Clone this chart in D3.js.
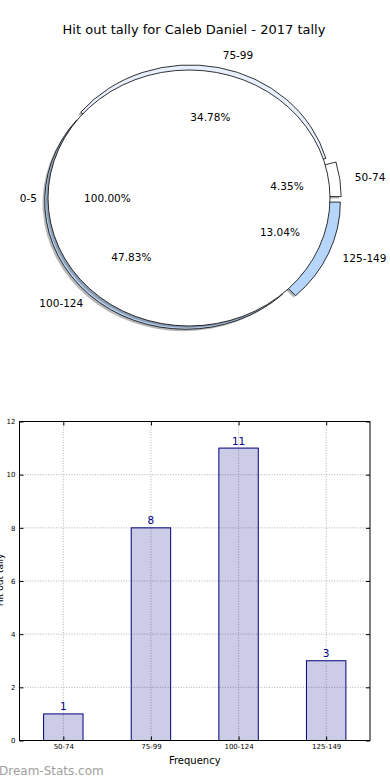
<!DOCTYPE html>
<html>
<head>
<meta charset="utf-8">
<script src="https://cdn.jsdelivr.net/npm/d3@7"></script>
<style>
  body { margin: 0; background: #fff; }
  svg { display: block; font-family: "DejaVu Sans", sans-serif; }
</style>
</head>
<body>
<div id="chart"></div>
<script>
// data
const title = "Hit out tally for Caleb Daniel - 2017 tally";
const categories = ["50-74", "75-99", "100-124", "125-149"];
const counts = [1, 8, 11, 3];
const pieColors = ["#ffffff", "#e8f0fd", "#bcd7f7", "#b5d5fb"];
const explode = [0.08, 0.04, 0.03, 0.08];
const outerLabel = ["0-5"];
const outerValue = [1];
const yTicks = [0, 2, 4, 6, 8, 10, 12];

const W = 390, H = 780;
const svg = d3.select("#chart").append("svg")
    .attr("width", W)
    .attr("height", H);

svg.append("text")
    .attr("x", 194)
    .attr("y", 34)
    .attr("text-anchor", "middle")
    .attr("font-size", 13)
    .text(title);

// ---- pie (matplotlib style, elliptical) ----
const cx = 189, cy = 198, rx = 141, ry = 128;
const arc = d3.arc().innerRadius(0).outerRadius(1);
// matplotlib goes counter clockwise from 3 o'clock
const pie = d3.pie().sort(null).startAngle(Math.PI / 2).endAngle(Math.PI / 2 - 2 * Math.PI);

const wedgeLayer = svg.append("g");
const textLayer = svg.append("g");

function unitPos(a, r) {
    return [r * Math.sin(a), -r * Math.cos(a)];
}

function drawPie(values, labels, colors, expl) {
    const arcs = pie(values);
    const g = wedgeLayer.append("g");

    // shadows first
    arcs.forEach((d, i) => {
        const mid = (d.startAngle + d.endAngle) / 2;
        const [ox, oy] = unitPos(mid, expl[i]);
        g.append("path")
            .attr("d", arc(d))
            .attr("transform", `translate(${cx + (ox - 0.015) * rx},${cy + (oy + 0.015) * ry}) scale(${rx},${ry})`)
            .attr("fill", "#333")
            .attr("fill-opacity", 0.35);
    });

    arcs.forEach((d, i) => {
        const mid = (d.startAngle + d.endAngle) / 2;
        const [ox, oy] = unitPos(mid, expl[i]);
        g.append("path")
            .attr("d", arc(d))
            .attr("transform", `translate(${cx + ox * rx},${cy + oy * ry}) scale(${rx},${ry})`)
            .attr("fill", colors[i])
            .attr("stroke", "#000")
            .attr("stroke-width", 0.8)
            .attr("vector-effect", "non-scaling-stroke");
    });

    const total = d3.sum(values);
    arcs.forEach((d, i) => {
        const mid = (d.startAngle + d.endAngle) / 2;
        const [lx, ly] = unitPos(mid, 1.1 + expl[i]);
        const [px, py] = unitPos(mid, 0.6 + expl[i]);
        textLayer.append("text")
            .attr("x", cx + lx * rx + (lx > 0 ? 1 : 3))
            .attr("y", cy + ly * ry)
            .attr("dy", "0.35em")
            .attr("text-anchor", lx > 0 ? "start" : "end")
            .attr("font-size", 10.5)
            .text(labels[i]);
        textLayer.append("text")
            .attr("x", cx + px * rx + 3)
            .attr("y", cy + py * ry)
            .attr("dy", "0.35em")
            .attr("text-anchor", "middle")
            .attr("font-size", 10.5)
            .text((values[i] / total * 100).toFixed(2) + "%");
    });
}

drawPie(counts, categories, pieColors, explode);
drawPie(outerValue, outerLabel, ["#ffffff"], [0]);

// ---- bar chart ----
const plotL = 19.5, plotR = 370, plotT = 421.5, plotB = 740.5;
const x = d3.scaleLinear().domain([-0.5, categories.length - 0.5]).range([plotL, plotR]);
const y = d3.scaleLinear().domain([0, 12]).range([plotB, plotT]);
const barW = 0.45;

const grid = svg.append("g")
    .attr("stroke", "#a8a8a8")
    .attr("stroke-width", 0.9)
    .attr("stroke-dasharray", "1,1.6");
yTicks.forEach(t => {
    grid.append("line")
        .attr("x1", plotL).attr("x2", plotR)
        .attr("y1", y(t)).attr("y2", y(t));
});
categories.forEach((c, i) => {
    grid.append("line")
        .attr("x1", x(i)).attr("x2", x(i))
        .attr("y1", plotT).attr("y2", plotB);
});

svg.selectAll("rect.bar")
    .data(counts)
    .enter()
    .append("rect")
    .attr("class", "bar")
    .attr("x", (d, i) => x(i - barW / 2))
    .attr("y", d => y(d))
    .attr("width", (d, i) => x(i + barW / 2) - x(i - barW / 2))
    .attr("height", d => y(0) - y(d))
    .attr("fill", "navy")
    .attr("fill-opacity", 0.2)
    .attr("stroke", "navy")
    .attr("stroke-width", 1);

svg.selectAll("text.val")
    .data(counts)
    .enter()
    .append("text")
    .attr("class", "val")
    .attr("x", (d, i) => x(i))
    .attr("y", d => y(d) - 3.5)
    .attr("text-anchor", "middle")
    .attr("font-size", 10.5)
    .attr("fill", "navy")
    .text(d => d);

// axes frame and inward ticks
svg.append("rect")
    .attr("x", plotL).attr("y", plotT)
    .attr("width", plotR - plotL).attr("height", plotB - plotT)
    .attr("fill", "none")
    .attr("stroke", "#000")
    .attr("stroke-width", 1);

const yAxisL = d3.axisLeft(y).tickValues(yTicks).tickSize(-4).tickPadding(4);
const yAxisR = d3.axisRight(y).tickValues(yTicks).tickSize(-4).tickFormat("");
const xAxisB = d3.axisBottom(x).tickValues(d3.range(categories.length))
    .tickFormat(i => categories[i]).tickSize(-4).tickPadding(4);
const xAxisT = d3.axisTop(x).tickValues(d3.range(categories.length))
    .tickSize(-4).tickFormat("");

function styleAxis(g) {
    g.select(".domain").remove();
    g.selectAll("text").attr("font-size", 7).attr("font-family", "DejaVu Sans").attr("fill", "#000");
    g.selectAll("line").attr("stroke", "#000");
}

svg.append("g").attr("transform", `translate(${plotL},0)`).call(yAxisL).call(styleAxis);
svg.append("g").attr("transform", `translate(${plotR},0)`).call(yAxisR).call(styleAxis);
svg.append("g").attr("transform", `translate(0,${plotB})`).call(xAxisB).call(styleAxis);
svg.append("g").attr("transform", `translate(0,${plotT})`).call(xAxisT).call(styleAxis);

svg.append("text")
    .attr("x", (plotL + plotR) / 2)
    .attr("y", 764)
    .attr("text-anchor", "middle")
    .attr("font-size", 10)
    .text("Frequency");

svg.append("text")
    .attr("transform", "translate(3,580) rotate(-90)")
    .attr("text-anchor", "middle")
    .attr("font-size", 9)
    .text("Hit out tally");

svg.append("text")
    .attr("x", -1)
    .attr("y", 775)
    .attr("font-size", 12)
    .attr("fill", "#a0a0a0")
    .text("Dream-Stats.com");
</script>
</body>
</html>
